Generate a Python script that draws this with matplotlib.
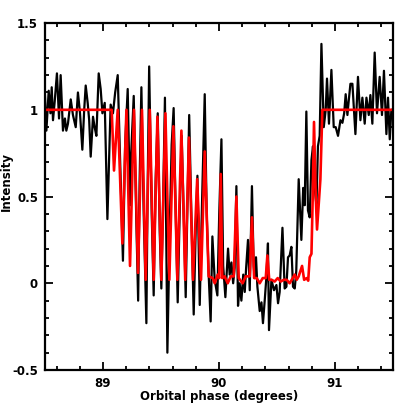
import matplotlib
matplotlib.use("Agg")
import matplotlib.pyplot as plt
from matplotlib.ticker import MultipleLocator, FuncFormatter

plt.rcParams['font.family'] = ['DejaVu Sans']
plt.rcParams['font.weight'] = 'bold'

# Observed intensity (black)
obs_phase = [88.500, 88.512, 88.532, 88.547, 88.558, 88.569, 88.584, 88.603, 88.621, 88.635,
             88.655, 88.672, 88.684, 88.698, 88.722, 88.741, 88.765, 88.784, 88.802, 88.822,
             88.838, 88.851, 88.868, 88.881, 88.894, 88.914, 88.928, 88.943, 88.963, 88.980,
             88.995, 89.015, 89.038, 89.066, 89.086, 89.105, 89.127, 89.148, 89.172, 89.191,
             89.213, 89.233, 89.243, 89.265, 89.286, 89.303, 89.316, 89.331, 89.351, 89.374,
             89.385, 89.398, 89.420, 89.437, 89.454, 89.472, 89.489, 89.503, 89.519, 89.534,
             89.555, 89.575, 89.592, 89.609, 89.627, 89.644, 89.661, 89.678, 89.696, 89.713,
             89.730, 89.743, 89.765, 89.782, 89.799, 89.814, 89.834, 89.855, 89.877, 89.894,
             89.911, 89.928, 89.943, 89.963, 89.986, 90.002, 90.021, 90.036, 90.055, 90.078,
             90.092, 90.107, 90.122, 90.135, 90.150, 90.164, 90.178, 90.193, 90.209, 90.222,
             90.234, 90.250, 90.265, 90.284, 90.299, 90.308, 90.319, 90.331, 90.351, 90.366,
             90.379, 90.394, 90.409, 90.422, 90.431, 90.452, 90.474, 90.495, 90.509, 90.523,
             90.547, 90.566, 90.581, 90.595, 90.609, 90.624, 90.638, 90.653, 90.666, 90.687,
             90.710, 90.726, 90.739, 90.753, 90.767, 90.782, 90.797, 90.810, 90.825, 90.840,
             90.853, 90.868, 90.883, 90.903, 90.920, 90.931, 90.948, 90.969, 90.989, 91.006,
             91.026, 91.047, 91.064, 91.079, 91.092, 91.107, 91.118, 91.133, 91.150, 91.176,
             91.198, 91.219, 91.236, 91.256, 91.271, 91.291, 91.305, 91.322, 91.342, 91.362,
             91.385, 91.405, 91.422, 91.443, 91.457, 91.472, 91.486, 91.500]
obs_intensity = [1.08, 0.88, 1.11, 0.98, 1.13, 0.94, 1.05, 1.21, 0.95, 1.20,
                 0.88, 0.95, 0.88, 0.92, 1.06, 0.97, 0.90, 1.10, 0.98, 0.77,
                 1.00, 1.14, 1.04, 0.94, 0.73, 0.96, 0.90, 0.85, 1.21, 1.12,
                 0.98, 1.04, 0.37, 1.03, 0.98, 1.10, 1.20, 0.70, 0.13, 0.80,
                 1.12, 0.45, 0.75, 1.08, 0.40, -0.10, 0.60, 1.13, 0.40, -0.23,
                 0.55, 1.25, 0.40, -0.07, 0.60, 0.98, 0.30, -0.03, 0.50, 1.07,
                 -0.40, 0.30, 0.80, 1.01, 0.40, -0.11, 0.40, 0.85, 0.40, -0.08,
                 0.50, 0.97, 0.30, -0.18, 0.30, 0.62, -0.125, 0.50, 1.09, 0.40,
                 0.05, -0.22, 0.27, 0.02, -0.07, 0.40, 0.83, 0.10, -0.08, 0.20,
                 0.05, 0.12, 0.00, 0.09, 0.56, -0.13, 0.00, -0.10, 0.05, -0.05,
                 0.09, 0.25, -0.04, 0.56, 0.10, 0.03, 0.15, -0.02, -0.16, -0.11,
                 -0.23, -0.10, 0.04, 0.23, -0.27, 0.02, -0.04, -0.01, -0.115, -0.05,
                 0.32, -0.03, -0.02, 0.15, 0.16, 0.21, -0.02, -0.03, 0.07, 0.60,
                 0.25, 0.55, 0.45, 0.99, 0.42, 0.38, 0.71, 0.79, 0.55, 0.45,
                 0.79, 0.85, 1.38, 0.90, 1.00, 1.18, 0.92, 1.23, 0.90, 0.90,
                 0.85, 0.94, 0.925, 0.98, 1.09, 0.97, 1.05, 1.15, 1.15, 0.86,
                 1.19, 0.94, 1.07, 0.92, 1.07, 0.97, 1.085, 0.92, 1.33, 0.98,
                 1.19, 0.97, 1.225, 0.86, 1.07, 0.83, 1.00, 1.00]

# Model intensity (red)
model_phase = [88.500, 89.058, 89.075, 89.095, 89.127, 89.167, 89.202, 89.233, 89.267, 89.302,
               89.336, 89.368, 89.403, 89.437, 89.469, 89.503, 89.538, 89.572, 89.607, 89.641,
               89.676, 89.709, 89.741, 89.776, 89.812, 89.845, 89.877, 89.911, 89.946, 89.963,
               89.989, 90.002, 90.015, 90.028, 90.049, 90.075, 90.101, 90.127, 90.150, 90.170,
               90.204, 90.230, 90.265, 90.284, 90.303, 90.325, 90.351, 90.377, 90.403, 90.417,
               90.433, 90.454, 90.480, 90.506, 90.532, 90.558, 90.584, 90.609, 90.627, 90.653,
               90.670, 90.687, 90.716, 90.734, 90.756, 90.769, 90.782, 90.797, 90.808, 90.819,
               90.834, 90.845, 90.862, 90.874, 90.891, 91.500]
model_intensity = [1.00, 1.00, 1.00, 0.65, 1.00, 0.23, 1.00, 0.10, 1.00, 0.06,
                   1.00, 0.02, 1.00, 0.02, 0.96, 0.02, 0.98, 0.02, 0.905, 0.02,
                   0.88, 0.02, 0.84, 0.02, 0.60, 0.02, 0.76, 0.04, 0.03, 0.00,
                   0.05, 0.03, 0.63, 0.03, 0.04, 0.00, 0.04, 0.04, 0.50, 0.03,
                   0.00, 0.04, 0.04, 0.38, 0.03, 0.03, 0.00, 0.03, 0.03, 0.16,
                   0.02, 0.02, 0.01, 0.03, 0.01, 0.02, 0.02, 0.00, 0.02, 0.05,
                   0.02, 0.04, 0.10, 0.02, 0.03, 0.015, 0.15, 0.17, 0.50, 0.93,
                   0.50, 0.31, 0.48, 0.60, 1.00, 1.00]

x_ticks = [89, 90, 91]
y_ticks = [-0.5, 0, 0.5, 1, 1.5]

fig = plt.figure(figsize=(4.15, 4.15), dpi=100)
ax = fig.add_axes([0.1084, 0.1084, 0.8386, 0.836])

ax.plot(obs_phase, obs_intensity, color='black', lw=1.6, solid_joinstyle='round')
ax.plot(model_phase, model_intensity, color='#ff0000', lw=1.9, solid_joinstyle='round')

ax.set_xlim(88.5, 91.5)
ax.set_ylim(-0.5, 1.5)
ax.set_xticks(x_ticks)
ax.set_yticks(y_ticks)
ax.xaxis.set_minor_locator(MultipleLocator(0.2))
ax.yaxis.set_minor_locator(MultipleLocator(0.1))
ax.yaxis.set_major_formatter(FuncFormatter(lambda v, p: '%g' % v))
ax.xaxis.set_major_formatter(FuncFormatter(lambda v, p: '%g' % v))

ax.tick_params(which='both', direction='in', top=True, right=True, width=1.3,
               labelsize=8.5, colors='black')
ax.tick_params(which='major', length=6, pad=5)
ax.tick_params(which='minor', length=3)
for lab in ax.get_xticklabels() + ax.get_yticklabels():
    lab.set_fontweight('bold')
for s in ax.spines.values():
    s.set_linewidth(1.6)

ax.set_xlabel('Orbital phase (degrees)', fontsize=8.5, fontweight='bold', labelpad=0)
ax.set_ylabel('Intensity', fontsize=8.5, fontweight='bold')
ax.yaxis.set_label_coords(-0.092, 0.543)

fig.savefig('out.png', dpi=100)
